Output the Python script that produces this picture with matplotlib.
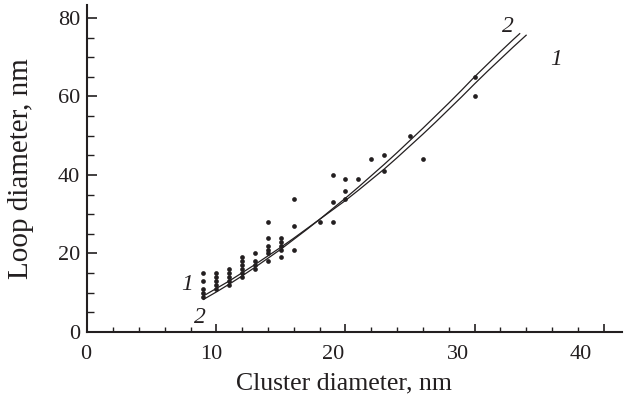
import matplotlib
matplotlib.use("Agg")
import matplotlib.pyplot as plt
from matplotlib.transforms import ScaledTranslation

plt.rcParams['font.family'] = ['Liberation Serif', 'DejaVu Serif']

## measured points: cluster diameter vs loop diameter
cluster_d = [9, 9, 9, 9, 9,
             10, 10, 10, 10, 10,
             11, 11, 11, 11, 11,
             12, 12, 12, 12, 12, 12,
             13, 13, 13, 13,
             14, 14, 14, 14, 14, 14,
             15, 15, 15, 15, 15,
             16, 16, 16,
             18,
             19, 19, 19,
             20, 20, 20,
             21, 22, 23, 23, 25, 26, 30, 30]
loop_d = [15, 13, 11, 10, 9,
          15, 14, 13, 12, 11,
          16, 15, 14, 13, 12,
          19, 18, 17, 16, 15, 14,
          20, 18, 17, 16,
          28, 24, 22, 21, 20, 18,
          24, 23, 22, 21, 19,
          34, 27, 21,
          28,
          40, 33, 28,
          39, 36, 34,
          39, 44, 45, 41, 50, 44, 65, 60]

## curves 1 and 2
curve1_x = [9, 10, 11, 12, 13, 14, 15, 16, 17, 18, 19, 20, 21, 22, 23, 24,
            25, 26, 27, 28, 29, 30, 31, 32, 33, 34]
curve1_y = [9.2, 11.1, 13.0, 15.1, 17.2, 19.4, 21.6, 23.9, 26.3, 28.7, 31.1,
            33.5, 36.1, 38.8, 41.5, 44.4, 47.4, 50.4, 53.5, 56.7, 59.9, 63.2,
            66.4, 69.5, 72.6, 75.6]
curve2_x = [9, 10, 11, 12, 13, 14, 15, 16, 17, 18, 19, 20, 21, 22, 23, 24,
            25, 26, 27, 28, 29, 30, 31, 32, 33, 33.5]
curve2_y = [8.3, 10.2, 12.2, 14.3, 16.5, 18.8, 21.1, 23.6, 26.1, 28.7, 31.4,
            34.1, 36.9, 39.8, 42.7, 45.7, 48.8, 51.9, 55.1, 58.3, 61.6, 65.0,
            68.2, 71.4, 74.5, 76.0]

xticks = [0, 10, 20, 30, 40]
yticks = [0, 20, 40, 60, 80]

fig = plt.figure(figsize=(6.27, 3.97), dpi=100)
ax = fig.add_axes([0.1392, 0.1637, 0.8523, 0.8237])

ax.plot(curve1_x, curve1_y, color='#231f20', lw=0.9)
ax.plot(curve2_x, curve2_y, color='#231f20', lw=0.9)
ax.plot(cluster_d, loop_d, 'o', color='#231f20', ms=3.4, mew=0)

ax.set_xlim(0, 41.4)
ax.set_ylim(0, 83.3)

ax.spines['top'].set_visible(False)
ax.spines['right'].set_visible(False)
for s in ['left', 'bottom']:
    ax.spines[s].set_linewidth(1.5)
    ax.spines[s].set_color('#231f20')

ax.set_xticks(xticks)
ax.set_xticks(range(0, 42, 2), minor=True)
ax.set_yticks(yticks)
ax.set_yticks(range(0, 85, 5), minor=True)
ax.tick_params(axis='both', which='both', direction='in', color='#231f20',
               labelsize=16, labelcolor='#231f20')
ax.tick_params(axis='x', which='major', length=6, width=1.2, pad=9)
ax.tick_params(axis='x', which='minor', length=3.6, width=1.0)
ax.tick_params(axis='y', which='major', length=7, width=1.2, pad=5)
ax.tick_params(axis='y', which='minor', length=4.7, width=1.0)

# tick labels in the original sit a bit left of their ticks
shifts = [-2, -5, -12, -17, -23]
for lab, dx in zip(ax.get_xticklabels(), shifts):
    lab.set_transform(lab.get_transform() + ScaledTranslation(dx / 100, 0, fig.dpi_scale_trans))

ax.set_xlabel('Cluster diameter, nm', fontsize=18.5, color='#231f20')
ax.xaxis.set_label_coords(0.48, -0.125)
ax.set_ylabel('Loop diameter, nm', fontsize=21, color='#231f20')
ax.yaxis.set_label_coords(-0.10, 0.5)

# curve labels
ax.text(7.7, 12.2, '1', style='italic', fontsize=17, ha='center', va='center', color='#231f20')
ax.text(8.7, 3.6, '2', style='italic', fontsize=17, ha='center', va='center', color='#231f20')
ax.text(32.6, 77.8, '2', style='italic', fontsize=17, ha='center', va='center', color='#231f20')
ax.text(36.3, 69.3, '1', style='italic', fontsize=17, ha='center', va='center', color='#231f20')

fig.savefig('out.png', dpi=100)
